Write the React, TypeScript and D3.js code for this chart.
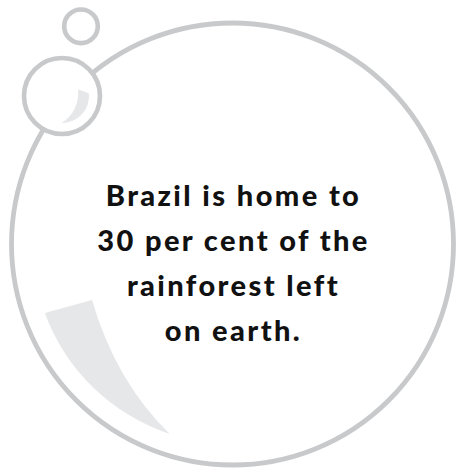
import React, { useEffect, useRef } from "react";
import * as d3 from "d3";

const W = 456;
const H = 471;

const textLines = ["Brazil is home to", "30 per cent of the", "rainforest left", "on earth."];
const bubbleNames = ["main", "medium", "small"];
const bubbleCx = [232.5, 62, 81];
const bubbleCy = [244, 96, 26.3];
const bubbleR = [221, 38, 16.8];

const STROKE = "#c8c9cb";
const HIGHLIGHT = "#e6e7e9";

export default function App() {
  const ref = useRef<SVGSVGElement | null>(null);

  useEffect(() => {
    const svg = d3.select(ref.current);
    svg.selectAll("*").remove();

    const bubbles = bubbleNames.map((n, i) => ({ n, cx: bubbleCx[i], cy: bubbleCy[i], r: bubbleR[i] }));

    const main = bubbles[0];
    svg.append("circle")
      .attr("cx", main.cx).attr("cy", main.cy).attr("r", main.r)
      .attr("fill", "#fff").attr("stroke", STROKE).attr("stroke-width", 4.8);

    const p = d3.path();
    const a0 = Math.atan2(313 - main.cy, 45 - main.cx);
    const a1 = Math.atan2(433 - main.cy, 170 - main.cx);
    p.moveTo(92, 300);
    p.lineTo(main.cx + 200 * Math.cos(a0), main.cy + 200 * Math.sin(a0));
    p.arc(main.cx, main.cy, 200, a0, a1, true);
    p.quadraticCurveTo(116, 382, 92, 300);
    p.closePath();
    svg.append("path").attr("d", p.toString()).attr("fill", HIGHLIGHT);

    bubbles.slice(1).forEach((b) => {
      svg.append("circle")
        .attr("cx", b.cx).attr("cy", b.cy).attr("r", b.r)
        .attr("fill", "#fff").attr("stroke", STROKE).attr("stroke-width", 4.6);
    });

    const m = bubbles[1];
    const q = d3.path();
    const b0 = Math.atan2(93.3 - m.cy, 90.7 - m.cx);
    const b1 = Math.atan2(120.7 - m.cy, 61.7 - m.cx);
    q.moveTo(78.3, 89.3);
    q.lineTo(m.cx + 27 * Math.cos(b0), m.cy + 27 * Math.sin(b0));
    q.arc(m.cx, m.cy, 27, b0, b1, false);
    q.quadraticCurveTo(79, 112, 78.3, 89.3);
    q.closePath();
    svg.append("path").attr("d", q.toString()).attr("fill", HIGHLIGHT);

    const y = d3.scalePoint<string>().domain(textLines).range([206, 341]);
    svg.append("g")
      .selectAll("text")
      .data(textLines)
      .join("text")
      .attr("x", 233.5)
      .attr("y", (d) => y(d) as number)
      .attr("text-anchor", "middle")
      .attr("font-family", "Lato, 'Open Sans', sans-serif")
      .attr("font-weight", 900)
      .attr("font-size", 29)
      .attr("letter-spacing", 2.4)
      .attr("fill", "#111")
      .text((d) => d);
  }, []);

  return (
    <svg
      ref={ref}
      width={W}
      height={H}
      viewBox={`0 0 ${W} ${H}`}
      style={{ position: "absolute", left: 0, top: 0, background: "#fff" }}
    />
  );
}
